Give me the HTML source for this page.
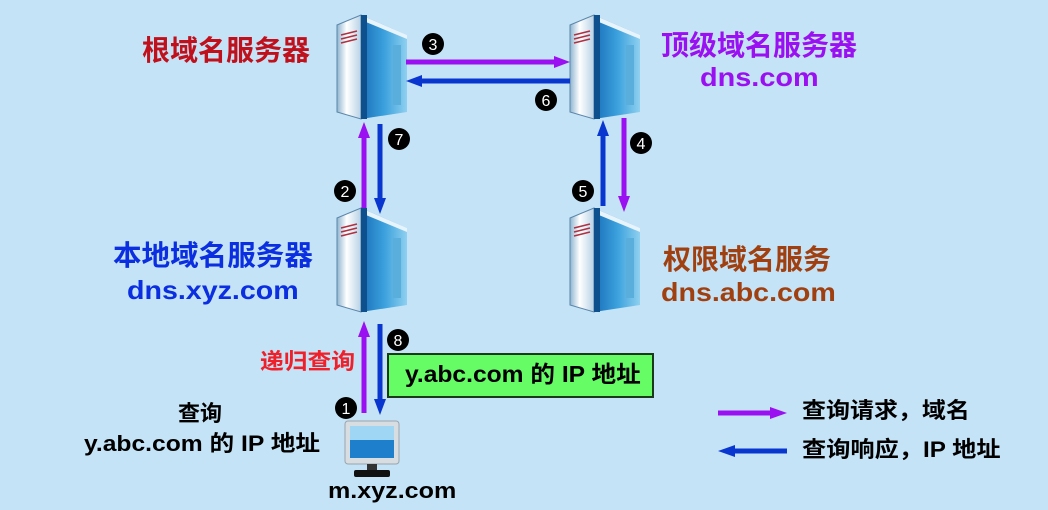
<!DOCTYPE html>
<html><head><meta charset="utf-8"><style>
body{margin:0;width:1048px;height:510px;background:#c4e3f6;position:relative;overflow:hidden;font-family:"Liberation Sans","Noto Sans CJK SC",sans-serif;font-weight:bold}
.t{position:absolute;white-space:nowrap;line-height:1;transform-origin:0 0}
svg{position:absolute;left:0;top:0}
</style></head><body>
<svg width="1048" height="510" viewBox="0 0 1048 510">
<defs>
<linearGradient id="lf" x1="0" x2="1"><stop offset="0" stop-color="#8fb4d0"/><stop offset="0.4" stop-color="#ffffff"/><stop offset="1" stop-color="#b8d2e6"/></linearGradient>
<linearGradient id="rf" x1="0" x2="1"><stop offset="0" stop-color="#1a6fb8"/><stop offset="0.5" stop-color="#3aa0dc"/><stop offset="1" stop-color="#8fd0f0"/></linearGradient>
<g id="srv">
<polygon points="0,10 24,0 24,104 0,97" fill="url(#lf)" stroke="#5a86aa" stroke-width="1"/>
<polygon points="24,0 70,20 70,97 24,104" fill="url(#rf)"/>
<polygon points="24,0 70,20 70,24 24,5" fill="#e8f4fb"/>
<rect x="24" y="0" width="6" height="104" fill="#0e4f8e"/>
<rect x="56" y="30" width="8" height="60" fill="#5aaedc"/>
<path d="M4 20 L20 16 M4 24 L20 20 M4 28 L20 24" stroke="#b03040" stroke-width="1.6"/>
</g>
<g id="c"><circle r="11" fill="#000"/></g>
</defs>
<use href="#srv" x="337" y="15"/>
<use href="#srv" x="570" y="15"/>
<use href="#srv" x="337" y="208"/>
<use href="#srv" x="570" y="208"/>
<g stroke-width="5" fill="none">
<line x1="406" y1="62" x2="556" y2="62" stroke="#9a10f0"/>
<line x1="570" y1="81" x2="420" y2="81" stroke="#0a36d0"/>
<line x1="364" y1="208" x2="364" y2="136" stroke="#9a10f0"/>
<line x1="380" y1="124" x2="380" y2="200" stroke="#0a36d0"/>
<line x1="603" y1="206" x2="603" y2="135" stroke="#0a36d0"/>
<line x1="624" y1="118" x2="624" y2="197" stroke="#9a10f0"/>
<line x1="364" y1="413" x2="364" y2="336" stroke="#9a10f0"/>
<line x1="380" y1="324" x2="380" y2="400" stroke="#0a36d0"/>
<line x1="718" y1="413" x2="772" y2="413" stroke="#9a10f0"/>
<line x1="787" y1="451" x2="733" y2="451" stroke="#0a36d0"/>
</g>
<polygon points="570,62 554,56 554,68" fill="#9a10f0"/>
<polygon points="406,81 422,75 422,87" fill="#0a36d0"/>
<polygon points="364,122 358,138 370,138" fill="#9a10f0"/>
<polygon points="380,214 374,198 386,198" fill="#0a36d0"/>
<polygon points="603,120 597,136 609,136" fill="#0a36d0"/>
<polygon points="624,212 618,196 630,196" fill="#9a10f0"/>
<polygon points="364,321 358,337 370,337" fill="#9a10f0"/>
<polygon points="380,415 374,399 386,399" fill="#0a36d0"/>
<polygon points="787,413 770,407 770,419" fill="#9a10f0"/>
<polygon points="718,451 735,445 735,457" fill="#0a36d0"/>
<g font-family="Liberation Sans,sans-serif" font-size="16" fill="#fff" text-anchor="middle" font-weight="normal">
<use href="#c" x="433" y="44"/><text x="433" y="50">3</text>
<use href="#c" x="546" y="100"/><text x="546" y="106">6</text>
<use href="#c" x="399" y="139"/><text x="399" y="145">7</text>
<use href="#c" x="641" y="143"/><text x="641" y="149">4</text>
<use href="#c" x="345" y="191"/><text x="345" y="197">2</text>
<use href="#c" x="583" y="191"/><text x="583" y="197">5</text>
<use href="#c" x="398" y="340"/><text x="398" y="346">8</text>
<use href="#c" x="346" y="408"/><text x="346" y="414">1</text>
</g>
<rect x="388" y="354" width="265" height="43" fill="#66fc66" stroke="#1a3a1a" stroke-width="2"/>
<rect x="345" y="421" width="54" height="43" rx="3" fill="#d8dde2" stroke="#9aa4ad"/>
<rect x="350" y="426" width="44" height="32" fill="#1e80cc"/>
<rect x="350" y="426" width="44" height="14" fill="#9fd6f4"/>
<rect x="367" y="464" width="10" height="6" fill="#333"/>
<rect x="354" y="470" width="36" height="7" rx="2" fill="#111"/>
</svg>
<div class="t" style="left:142px;top:37px;font-size:28px;color:#c0101c">根域名服务器</div>
<div class="t" style="left:661px;top:32px;font-size:28px;color:#9a10f0">顶级域名服务器</div>
<div class="t" style="left:700px;top:64px;font-size:26px;color:#9a10f0;transform:scaleX(1.11)">dns.com</div>
<div class="t" style="left:113px;top:242px;font-size:28px;color:#0a2ee0;transform:scaleX(1.02)">本地域名服务器</div>
<div class="t" style="left:127px;top:277px;font-size:26px;color:#0a2ee0;transform:scaleX(1.1)">dns.xyz.com</div>
<div class="t" style="left:663px;top:246px;font-size:28px;color:#a04010">权限域名服务</div>
<div class="t" style="left:661px;top:279px;font-size:26px;color:#a04010;transform:scaleX(1.1)">dns.abc.com</div>
<div class="t" style="left:260px;top:351px;font-size:22px;color:#f0202a;transform:scaleX(1.08)">递归查询</div>
<div class="t" style="left:405px;top:363px;font-size:23px;color:#000;transform:scaleX(1.07)">y.abc.com 的 IP 地址</div>
<div class="t" style="left:178px;top:403px;font-size:22px;color:#000">查询</div>
<div class="t" style="left:84px;top:433px;font-size:22px;color:#000;transform:scaleX(1.12)">y.abc.com 的 IP 地址</div>
<div class="t" style="left:328px;top:480px;font-size:22px;color:#000;transform:scaleX(1.14)">m.xyz.com</div>
<div class="t" style="left:802px;top:400px;font-size:22px;color:#000;transform:scaleX(1.09)">查询请求，域名</div>
<div class="t" style="left:802px;top:439px;font-size:22px;color:#000;transform:scaleX(1.1)">查询响应，IP 地址</div>
</body></html>
